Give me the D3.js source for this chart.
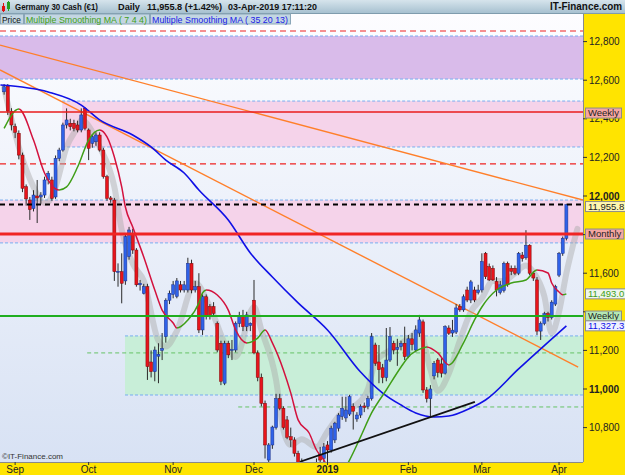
<!DOCTYPE html>
<html><head><meta charset="utf-8">
<script src="https://cdn.jsdelivr.net/npm/d3@7"></script>
<style>body{margin:0;background:#fff;overflow:hidden}svg{display:block;font-family:"Liberation Sans",Arial,sans-serif}</style>
</head><body><svg id="c" width="625" height="475"></svg>
<script>
// ---------- DATA ----------
const monthLabels = ["Sep","Oct","Nov","Dec","2019","Feb","Mar","Apr"];
const monthStartIdx = [3,23,46,68,88,110,130,151];
const yTicks = [12800,12600,12400,12200,12000,11800,11600,11400,11200,11000,10800];
const boldTicks = [12000,11000];
const hiddenTickLabels = [11800,11400];   // covered by the level tags in the original
// daily candles [open, high, low, close], 29-Aug-2018 .. 03-Apr-2019
const ohlc = [
[12540,12580,12525,12566],[12570,12580,12420,12440],[12437,12455,12340,12368],[12360,12375,12300,12330],
[12325,12340,12190,12212],[12212,12225,12020,12040],[12048,12060,11950,11985],[11979,11995,11876,11930],
[11935,12030,11920,12005],[12000,12083,11860,11990],[11995,12020,11960,12005],[12005,12100,11990,12083],
[12083,12130,12060,12118],[12083,12100,11975,11988],[11995,12210,11985,12195],[12195,12250,12180,12238],
[12238,12380,12230,12368],[12368,12454,12350,12394],[12377,12400,12340,12359],[12377,12395,12335,12351],
[12368,12390,12330,12342],[12342,12454,12330,12420],[12454,12460,12340,12351],[12342,12350,12186,12247],
[12273,12320,12250,12307],[12281,12330,12260,12316],[12316,12330,12230,12238],[12238,12250,12090,12100],
[12100,12110,11975,11988],[11990,12000,11965,11982],[11979,11990,11560,11608],[11605,11651,11530,11610],
[11608,11703,11444,11548],[11560,11800,11540,11789],[11686,11840,11670,11824],[11807,11830,11700,11720],
[11720,11730,11530,11540],[11540,11565,11510,11548],[11496,11545,11490,11530],[11530,11545,11047,11116],
[11140,11200,11060,11090],[11090,11220,11040,11202],[11170,11237,11030,11180],[11200,11290,11150,11210],
[11271,11470,11240,11460],[11460,11510,11440,11496],[11490,11560,11470,11540],[11480,11575,11470,11560],
[11540,11560,11500,11513],[11513,11560,11500,11540],[11513,11680,11500,11651],[11651,11670,11496,11513],
[11513,11560,11500,11530],[11530,11600,11290,11306],[11306,11490,11280,11478],[11478,11490,11360,11375],
[11427,11440,11360,11375],[11427,11450,11380,11392],[11340,11350,11190,11202],[11237,11250,11020,11040],
[11030,11250,11020,11237],[11237,11250,11160,11177],[11200,11254,11150,11205],[11202,11350,11190,11340],
[11340,11400,11320,11375],[11375,11410,11300,11323],[11323,11400,11300,11384],[11330,11345,11300,11340],
[11460,11565,11180,11187],[11187,11200,11040,11060],[11060,11080,10910,10926],[10926,10940,10640,10710],
[10632,10720,10600,10710],[10710,10810,10690,10803],[10800,10975,10790,10950],[10950,10975,10890,10900],
[10900,10910,10790,10800],[10840,10860,10740,10750],[10753,10800,10700,10736],[10736,10750,10650,10667],
[10667,10680,10560,10600],[10620,10640,10500,10560],[10560,10620,10520,10590],[10590,10600,10380,10420],
[10420,10580,10400,10560],[10560,10640,10540,10620],[10660,10700,10600,10632],[10640,10720,10600,10700],
[10710,10730,10620,10684],[10684,10810,10670,10797],[10736,10830,10720,10823],[10797,10875,10780,10865],
[10857,10960,10840,10900],[10850,10960,10830,10891],[10870,10970,10860,10960],[10910,10926,10790,10885],
[10845,10880,10830,10865],[10865,10920,10850,10910],[10912,10930,10880,10905],[10910,10965,10895,10950],
[10950,11290,10940,11271],[11228,11240,11120,11133],[11140,11228,11030,11100],[11110,11130,11030,11060],
[11060,11316,11040,11150],[11150,11321,11140,11271],[11237,11250,11180,11202],[11205,11260,11120,11215],
[11219,11250,11200,11237],[11237,11323,11150,11168],[11168,11280,11160,11260],[11260,11290,11200,11230],
[11202,11330,11190,11306],[11290,11384,11270,11358],[11348,11360,10980,10995],[10995,11010,10930,10950],
[10950,11020,10857,11000],[11068,11145,11050,11133],[11150,11160,11060,11085],[11130,11160,11060,11082],
[11082,11330,11075,11323],[11316,11330,11280,11289],[11290,11358,11270,11305],[11295,11440,11285,11420],
[11427,11440,11400,11410],[11410,11490,11400,11478],[11513,11530,11450,11461],[11461,11565,11445,11555],
[11513,11530,11450,11461],[11500,11540,11490,11513],[11513,11703,11500,11660],[11703,11710,11570,11582],
[11634,11650,11560,11565],[11625,11640,11560,11565],[11557,11580,11480,11513],[11500,11560,11490,11540],
[11510,11660,11500,11651],[11651,11660,11530,11540],[11625,11640,11590,11610],[11625,11640,11590,11600],
[11600,11710,11590,11703],[11694,11710,11660,11677],[11680,11823,11670,11745],[11745,11750,11590,11600],
[11600,11610,11560,11575],[11565,11580,11280,11300],[11300,11350,11254,11340],[11340,11400,11330,11390],
[11390,11400,11350,11370],[11370,11460,11360,11450],[11440,11540,11430,11530],[11590,11710,11580,11703],
[11703,11790,11690,11781],[11781,11960,11770,11955.8]
];
// Multiple Smoothing MA (7 4 4) read at selected candles
const fastIdx = [0,4,8,11,13,15,17,20,23,26,28,30,32,33,35,38,41,43,46,47,50,53,54,55,58,61,63,66,69,71,73,76,78,80,83,85,87,89,91,94,97,100,104,108,110,114,115,118,121,125,128,130,134,138,142,145,148,149,151,152,153];
const fastVal = [12350,12451,12290,12119,12055,12031,12047,12150,12290,12342,12306,12202,12047,11943,11839,11684,11513,11409,11342,11316,11358,11446,11498,11513,11487,11409,11306,11239,11264,11306,11239,11099,10980,10840,10772,10684,10632,10560,10540,10632,10752,10876,10995,11114,11166,11213,11218,11187,11125,11239,11358,11425,11513,11549,11565,11617,11601,11549,11503,11488,11493.0];
// Multiple Smoothing MA (35 20 13)
const slowIdx = [-1,12,21,26,35,40,44,49,53,61,67,73,80,88,97,103,108,112,117,121,127,131,140,153];
const slowVal = [12575,12539,12471,12394,12316,12254,12186,12119,12031,11876,11705,11580,11446,11306,11088,10979,10917,10876,10855,10860,10902,10943,11104,11327.3];
// grey displaced smoothing
const shadowIdx = [0,4,8,11,12,14,17,20,21,26,30,32,35,38,42,44,47,52,56,61,63,68,70,74,76,78,81,85,88,92,96,99,101,105,110,113,116,118,121,124,127,130,133,136,139,142,144,147,149,151,153,156];
const shadowVal = [12560,12254,12047,11964,11969,12047,12254,12357,12394,12254,12047,11824,11650,11560,11250,11220,11300,11549,11425,11202,11166,11425,11306,11047,10788,10710,10740,10700,10780,10880,10920,11000,11140,11200,11260,11300,11100,10990,11080,11250,11400,11470,11560,11560,11600,11640,11606,11480,11290,11400,11600,11830];
// trend lines
const orangeA_idx = [-1.116,157.52], orangeA_val = [12782,11979];
const orangeB_idx = [-1.116,156.2], orangeB_val = [12653,11114];
const trendIdx = [80.5,128.1], trendVal = [10623,10933];
// support / resistance zones
const zoneLow = [12606,12254,11757,10969];
const zoneHigh = [12829,12492,11979,11275];
const zoneStart = [-1.116,15.8,-1.116,32.9];
const dashRedVals = [12855,12166];
const dashGreenVals = [11187,10907];
const dashGreenStart = [22.6,63.7];
const weeklyRed = 12435, monthly = 11803, weeklyGreen = 11378;
const lastPrice = 11955.8;
// header / legend texts
const headerTexts = ["Germany 30 Cash (€1)","Daily","11,955.8 (+1.42%)","03-Apr-2019 17:11:20"];
const legendTexts = ["Price","Multiple Smoothing MA ( 7 4 4)","Multiple Smoothing MA ( 35 20 13)"];

// ---------- CHART ----------
const svg = d3.select("#c");
const P = {l:0, r:583, t:13, b:462};
const x = d3.scaleLinear().domain([-1.116,157.52]).range([P.l,P.r]);
const y = d3.scaleLinear().domain([10621.8,12948.2]).range([P.b,P.t]);
const defs = svg.append("defs");
const bg = defs.append("linearGradient").attr("id","bg").attr("x1",0).attr("x2",0).attr("y1",0).attr("y2",1);
bg.append("stop").attr("offset","0").attr("stop-color","#fdfdff");
bg.append("stop").attr("offset","1").attr("stop-color","#d8e2f4");
defs.append("clipPath").attr("id","clip").append("rect").attr("x",P.l).attr("y",P.t).attr("width",P.r-P.l).attr("height",P.b-P.t);
const hg = defs.append("linearGradient").attr("id","hdr").attr("x1",0).attr("x2",0).attr("y1",0).attr("y2",1);
hg.append("stop").attr("offset","0").attr("stop-color","#d6e4ec");
hg.append("stop").attr("offset","1").attr("stop-color","#a7c1d0");

svg.append("rect").attr("width",625).attr("height",475).attr("fill","#fff");
svg.append("rect").attr("x",P.l).attr("y",P.t).attr("width",P.r-P.l).attr("height",P.b-P.t).attr("fill","url(#bg)");
const pg = svg.append("g").attr("clip-path","url(#clip)");

const zoneFill = ["#d9bbea","#f5d3ea","#f5d3ea","#c8eed8"];
zoneLow.forEach((lo,k)=>{
  pg.append("rect").attr("x",x(zoneStart[k])).attr("width",P.r-x(zoneStart[k]))
    .attr("y",y(zoneHigh[k])).attr("height",y(lo)-y(zoneHigh[k])).attr("fill",zoneFill[k]);
  [lo,zoneHigh[k]].forEach(v=>pg.append("line").attr("x1",x(zoneStart[k])).attr("x2",P.r)
    .attr("y1",y(v)).attr("y2",y(v)).attr("stroke","#78aef0").attr("stroke-width",1).attr("stroke-dasharray","3,2"));
});
dashRedVals.forEach(v=>pg.append("line").attr("x1",P.l).attr("x2",P.r).attr("y1",y(v)).attr("y2",y(v))
  .attr("stroke","#ee2222").attr("stroke-width",1.2).attr("stroke-dasharray","6,4"));
dashGreenVals.forEach((v,k)=>pg.append("line").attr("x1",x(dashGreenStart[k])).attr("x2",P.r).attr("y1",y(v)).attr("y2",y(v))
  .attr("stroke","#66c266").attr("stroke-width",1).attr("stroke-dasharray","4,3"));

const lineGen = d3.line().x(d=>x(d[0])).y(d=>y(d[1]));
const smooth = d3.line().x(d=>x(d[0])).y(d=>y(d[1])).curve(d3.curveMonotoneX);
[[orangeA_idx,orangeA_val],[orangeB_idx,orangeB_val]].forEach(([ix,vv])=>
  pg.append("path").attr("d",lineGen(d3.zip(ix,vv))).attr("fill","none").attr("stroke","#ff7f2a").attr("stroke-width",1.4));
pg.append("path").attr("d",smooth(d3.zip(shadowIdx,shadowVal))).attr("fill","none")
  .attr("stroke","#a8a8a8").attr("stroke-opacity",0.45).attr("stroke-width",6).attr("stroke-linecap","round");

// candles
const cg = pg.append("g");
cg.selectAll("line.w").data(ohlc).join("line").attr("class","w")
  .attr("x1",(d,i)=>x(i)).attr("x2",(d,i)=>x(i)).attr("y1",d=>y(d[1])).attr("y2",d=>y(d[2]))
  .attr("stroke","#2b2b2b").attr("stroke-width",1);
cg.selectAll("rect.b").data(ohlc).join("rect").attr("class","b")
  .attr("x",(d,i)=>x(i)-1.5).attr("width",3)
  .attr("y",d=>y(Math.max(d[0],d[3]))).attr("height",d=>Math.max(1,Math.abs(y(d[0])-y(d[3]))))
  .attr("fill",d=>d[3]>=d[0]?"#2f62e8":"#e8141c")
  .attr("stroke",d=>d[3]>=d[0]?"#1b2f8a":"#7a0a0a").attr("stroke-width",0.5);

// slow MA
pg.append("path").attr("d",smooth(d3.zip(slowIdx,slowVal))).attr("fill","none").attr("stroke","#1010e6").attr("stroke-width",1.6);
// fast MA coloured by direction
const fx0 = x(fastIdx[0]), fx1 = x(fastIdx[fastIdx.length-1]);
const fg = defs.append("linearGradient").attr("id","fastg").attr("gradientUnits","userSpaceOnUse")
  .attr("x1",fx0).attr("x2",fx1).attr("y1",0).attr("y2",0);
for(let k=0;k<fastIdx.length-1;k++){
  const col = fastVal[k+1]>=fastVal[k] ? "#3f9e17" : "#d3123e";
  fg.append("stop").attr("offset",(x(fastIdx[k])-fx0)/(fx1-fx0)).attr("stop-color",col);
  fg.append("stop").attr("offset",(x(fastIdx[k+1])-fx0)/(fx1-fx0)).attr("stop-color",col);
}
pg.append("path").attr("d",smooth(d3.zip(fastIdx,fastVal))).attr("fill","none").attr("stroke","url(#fastg)").attr("stroke-width",1.5);
pg.append("path").attr("d",lineGen(d3.zip(trendIdx,trendVal))).attr("stroke","#111").attr("stroke-width",1.8).attr("fill","none");
// levels
pg.append("line").attr("x1",P.l).attr("x2",P.r).attr("y1",y(weeklyRed)).attr("y2",y(weeklyRed)).attr("stroke","#e81c1c").attr("stroke-width",1.5);
pg.append("line").attr("x1",P.l).attr("x2",P.r).attr("y1",y(monthly)).attr("y2",y(monthly)).attr("stroke","#f02424").attr("stroke-width",3);
pg.append("line").attr("x1",P.l).attr("x2",P.r).attr("y1",y(weeklyGreen)).attr("y2",y(weeklyGreen)).attr("stroke","#1fae1f").attr("stroke-width",2);
pg.append("line").attr("x1",P.l).attr("x2",P.r).attr("y1",y(lastPrice)).attr("y2",y(lastPrice)).attr("stroke","#000").attr("stroke-width",2).attr("stroke-dasharray","5,4");

// axes backgrounds
svg.append("rect").attr("x",P.r).attr("y",P.t).attr("width",625-P.r).attr("height",475-P.t).attr("fill","#ffe400");
svg.append("rect").attr("x",0).attr("y",P.b).attr("width",625).attr("height",475-P.b).attr("fill","#ffe400");
svg.append("line").attr("x1",P.r+0.5).attr("x2",P.r+0.5).attr("y1",P.t).attr("y2",P.b).attr("stroke","#8a8a8a");
svg.append("line").attr("x1",0).attr("x2",P.r).attr("y1",P.b+0.5).attr("y2",P.b+0.5).attr("stroke","#8a8a8a");

// right axis
yTicks.forEach(v=>{
  svg.append("line").attr("x1",P.r).attr("x2",P.r+4).attr("y1",y(v)).attr("y2",y(v)).attr("stroke","#333");
  if(hiddenTickLabels.includes(v)) return;
  svg.append("text").attr("x",P.r+6).attr("y",y(v)).attr("dy","0.35em").attr("font-size",10)
    .attr("font-weight",boldTicks.includes(v)?"bold":"normal").attr("fill","#222").text(d3.format(",")(v));
});
// bottom axis
monthLabels.forEach((m,k)=>{
  const xx = x(monthStartIdx[k]);
  svg.append("line").attr("x1",xx).attr("x2",xx).attr("y1",P.b).attr("y2",P.b+3).attr("stroke","#333");
  svg.append("text").attr("x",xx).attr("y",473).attr("text-anchor","middle").attr("font-size",10)
    .attr("font-weight",m==="2019"?"bold":"normal").attr("fill","#222").text(m);
});

// price tags
function tag(v,txt,fill,color,dy){
  const yy = y(v)+(dy||0);
  const g = svg.append("g");
  const t = g.append("text").attr("x",P.r+5).attr("y",yy).attr("dy","0.35em").attr("font-size",9.5).attr("fill",color).text(txt);
  const w = t.node().getComputedTextLength();
  g.insert("rect","text").attr("x",P.r+2.5).attr("y",yy-5).attr("width",w+5).attr("height",10)
    .attr("fill",fill).attr("stroke","#8c8c8c").attr("stroke-width",1);
}
tag(weeklyRed,"Weekly","#f6a6a2","#222",1);
tag(lastPrice,d3.format(",.1f")(lastPrice),"#fff7b0","#222",2);
tag(monthly,"Monthly","#f6a6a2","#222");
tag(fastVal[fastVal.length-1],d3.format(",.1f")(fastVal[fastVal.length-1]),"#eef6ee","#3f9e17");
tag(weeklyGreen,"Weekly","#b4e8b4","#222");
tag(slowVal[slowVal.length-1],d3.format(",.1f")(slowVal[slowVal.length-1]),"#eef0ff","#1010e6");

// header
svg.append("rect").attr("x",0).attr("y",0).attr("width",625).attr("height",13).attr("fill","url(#hdr)");
svg.append("line").attr("x1",0).attr("x2",625).attr("y1",13.5).attr("y2",13.5).attr("stroke","#7f9cad");
svg.append("line").attr("x1",3.5).attr("x2",3.5).attr("y1",3).attr("y2",12).attr("stroke","#e01010");
svg.append("line").attr("x1",8.5).attr("x2",8.5).attr("y1",1).attr("y2",11).attr("stroke","#22a022");
svg.append("rect").attr("x",2).attr("y",6).attr("width",3).attr("height",5).attr("fill","#e01010");
svg.append("rect").attr("x",7).attr("y",2).attr("width",3).attr("height",7).attr("fill","#22a022");
const hdrX = [15,118,147,228], hdrW = [83,22,75,89];
headerTexts.forEach((t,k)=>svg.append("text").attr("x",hdrX[k]).attr("y",10).attr("font-size",9.5).attr("font-weight","bold")
  .attr("fill","#111").attr("textLength",hdrW[k]).attr("lengthAdjust","spacingAndGlyphs").text(t));
svg.append("text").attr("x",550).attr("y",10).attr("font-size",10).attr("font-weight","bold").attr("fill","#111")
  .attr("textLength",72).attr("lengthAdjust","spacingAndGlyphs").text("IT-Finance.com");

// legend
const legColor = ["#111","#3f9e17","#1a1ae6"], legW = [24,126,141];
let lx = 0;
legendTexts.forEach((t,k)=>{
  svg.append("rect").attr("x",lx+0.5).attr("y",14).attr("width",legW[k]-1).attr("height",10).attr("fill","#c3d6e2").attr("stroke","#8aa6b8");
  svg.append("text").attr("x",lx+2).attr("y",22.5).attr("font-size",9.5).attr("fill",legColor[k])
    .attr("textLength",legW[k]-5).attr("lengthAdjust","spacingAndGlyphs").text(t);
  lx += legW[k];
});
svg.append("text").attr("x",2).attr("y",459).attr("font-size",8).attr("fill","#333").text("©IT-Finance.com");
</script></body></html>
